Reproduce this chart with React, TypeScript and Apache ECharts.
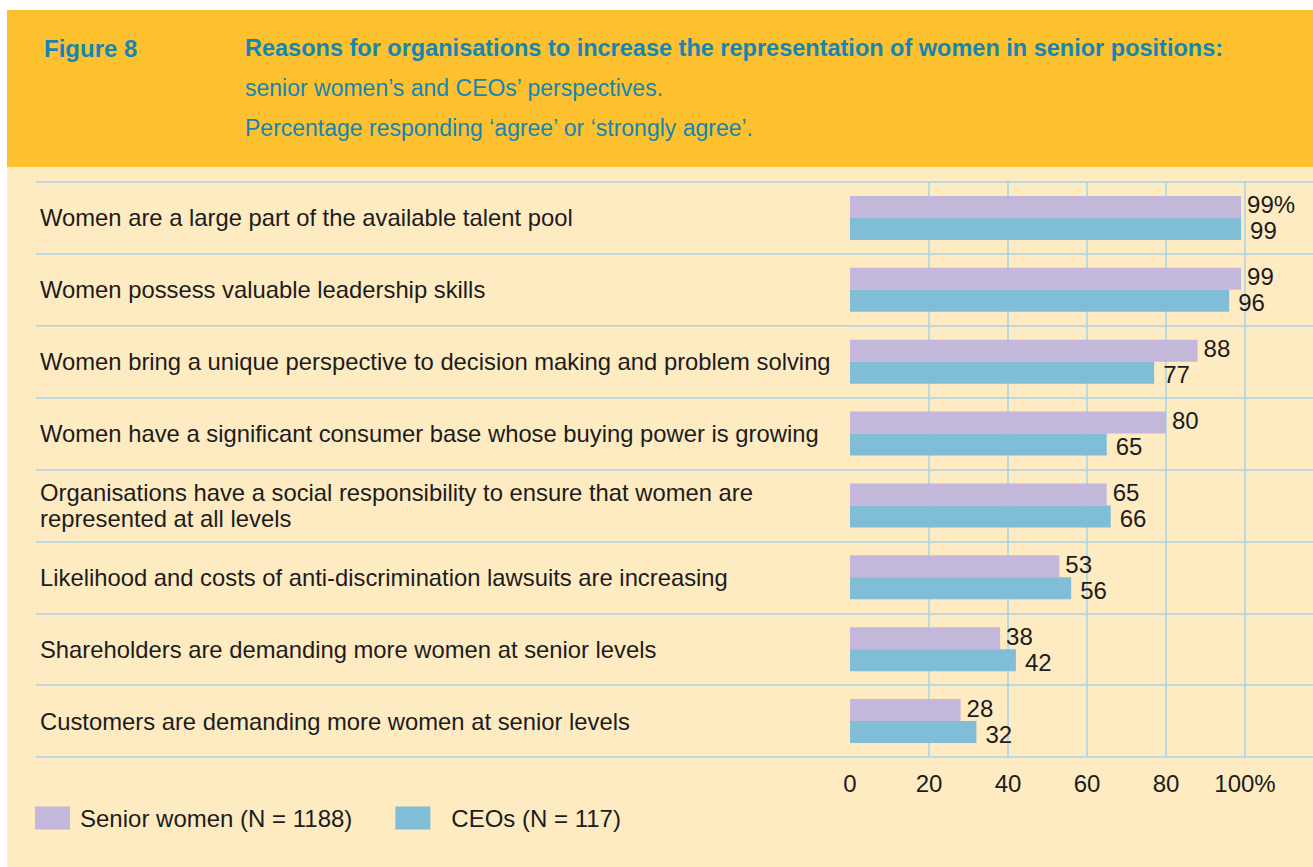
import React, { useEffect, useRef } from "react";
import * as echarts from "echarts";

const categories = [
  "Women are a large part of the available talent pool",
  "Women possess valuable leadership skills",
  "Women bring a unique perspective to decision making and problem solving",
  "Women have a significant consumer base whose buying power is growing",
  "Organisations have a social responsibility to ensure that women are\nrepresented at all levels",
  "Likelihood and costs of anti-discrimination lawsuits are increasing",
  "Shareholders are demanding more women at senior levels",
  "Customers are demanding more women at senior levels",
];
const seniorWomen = [99, 99, 88, 80, 65, 53, 38, 28];
const ceos = [99, 96, 77, 65, 66, 56, 42, 32];
const xTicks = [0, 20, 40, 60, 80, 100];
const seriesNames = ["Senior women (N = 1188)", "CEOs (N = 117)"];
const figureLabel = "Figure 8";
const titleText = "Reasons for organisations to increase the representation of women in senior positions:";
const subtitle1 = "senior women\u2019s and CEOs\u2019 perspectives.";
const subtitle2 = "Percentage responding \u2018agree\u2019 or \u2018strongly agree\u2019.";

const FONT = "'Liberation Sans', Arial, sans-serif";
const TEXT = "#1c1c1c";
const GRIDC = "#A6D3E6";
const HEAD = "#1585B2";

export default function App() {
  const ref = useRef<HTMLDivElement>(null);
  useEffect(() => {
    document.body.style.margin = "0";
    const chart = echarts.init(ref.current!, null, { renderer: "svg" });
    chart.setOption({
      animation: false,
      backgroundColor: "#ffffff",
      textStyle: { fontFamily: FONT },
      graphic: [
        { type: "rect", z: -10, shape: { x: 7, y: 10, width: 1306, height: 157 }, style: { fill: "#FDC12F" } },
        { type: "rect", z: -10, shape: { x: 7, y: 167, width: 1306, height: 700 }, style: { fill: "#FEEBC2" } },
        { type: "text", x: 44, y: 48, style: { text: figureLabel, fill: HEAD, font: `bold 24px ${FONT}`, verticalAlign: "middle" } },
        { type: "text", x: 245, y: 48, style: { text: titleText, fill: HEAD, font: `bold 23.5px ${FONT}`, verticalAlign: "middle" } },
        { type: "text", x: 245, y: 88, style: { text: subtitle1, fill: HEAD, font: `23px ${FONT}`, verticalAlign: "middle" } },
        { type: "text", x: 245, y: 128, style: { text: subtitle2, fill: HEAD, font: `23px ${FONT}`, verticalAlign: "middle" } },
      ],
      legend: {
        left: 35,
        top: 806,
        padding: 0,
        itemWidth: 35,
        itemHeight: 23,
        itemGap: 43,
        icon: "rect",
        textStyle: { fontSize: 24, color: TEXT, fontFamily: FONT, padding: [0, 0, 0, 5] },
        data: [
          { name: seriesNames[0] },
          { name: seriesNames[1], textStyle: { padding: [0, 0, 0, 16] } },
        ],
      },
      grid: { left: 850, right: 68, top: 182, bottom: 110, containLabel: false },
      xAxis: {
        type: "value",
        min: 0,
        max: 100,
        interval: 20,
        axisLine: { show: false },
        axisTick: { show: false },
        splitLine: { show: true, showMinLine: false, lineStyle: { color: GRIDC, width: 1.5 } },
        axisLabel: {
          fontSize: 24,
          color: TEXT,
          margin: 14,
          formatter: (v: number) => (v === xTicks[xTicks.length - 1] ? `${v}%` : `${v}`),
        },
      },
      yAxis: [
        {
          type: "category",
          data: categories,
          inverse: true,
          axisLine: { show: false },
          axisTick: { show: true, length: 814, lineStyle: { color: GRIDC, width: 1.5 } },
          splitLine: { show: true, lineStyle: { color: GRIDC, width: 1.5 } },
          axisLabel: { align: "left", margin: 810, fontSize: 23.8, color: TEXT, lineHeight: 26, padding: [3, 0, 0, 0] },
        },
        {
          type: "category",
          data: categories,
          inverse: true,
          position: "right",
          axisLine: { show: false },
          axisTick: { show: true, length: 68, lineStyle: { color: GRIDC, width: 1.5 } },
          axisLabel: { show: false },
        },
      ],
      series: [
        {
          name: seriesNames[0],
          type: "bar",
          data: seniorWomen,
          barWidth: 22,
          barGap: "0%",
          itemStyle: { color: "#C4B8DA" },
          label: {
            show: true,
            position: "right",
            distance: 6,
            offset: [0, -2],
            fontSize: 24,
            color: TEXT,
            formatter: (p: any) => (p.dataIndex === 0 ? `${p.value}%` : `${p.value}`),
          },
        },
        {
          name: seriesNames[1],
          type: "bar",
          data: ceos,
          barWidth: 22,
          barGap: "0%",
          itemStyle: { color: "#80BED8" },
          label: { show: true, position: "right", distance: 9, offset: [0, 2], fontSize: 24, color: TEXT },
        },
      ],
    });
    return () => chart.dispose();
  }, []);
  return <div ref={ref} style={{ width: 1313, height: 867 }} />;
}
